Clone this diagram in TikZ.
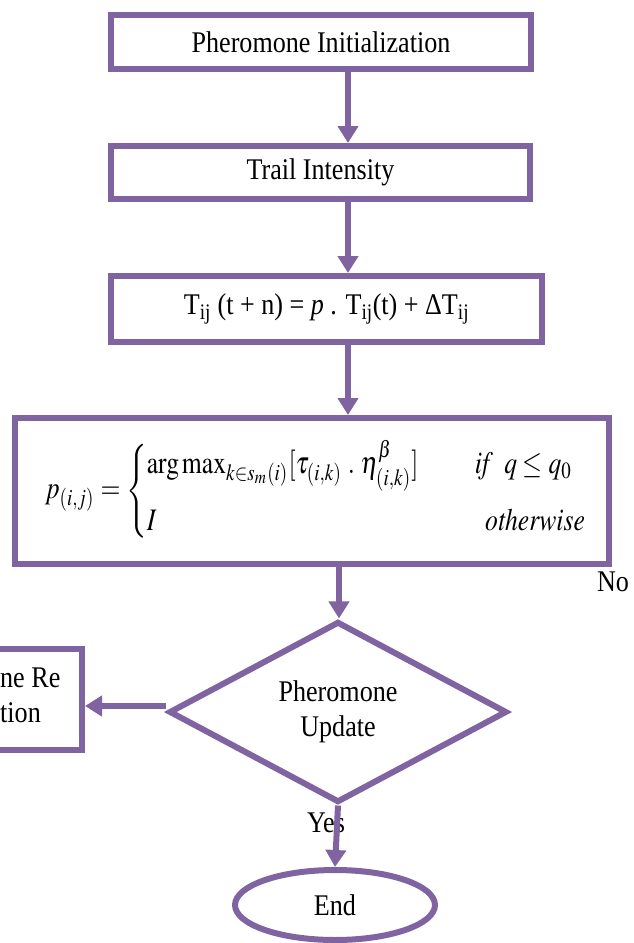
\documentclass[tikz,border=0pt]{standalone}
\usepackage{mathptmx}
\usepackage{graphicx}
\usepackage[no-math]{fontspec}
\setmainfont[FakeStretch=0.87]{Liberation Serif}
\usetikzlibrary{arrows.meta,shapes.geometric}
\definecolor{pur}{RGB}{128,100,162}
\begin{document}
\begin{tikzpicture}[x=1pt,y=-1pt,
  box/.style={draw=pur,line width=6pt,inner sep=0pt},
  arr/.style={draw=pur,line width=6pt,-{Triangle[width=20pt,length=17pt]}},
  lbl/.style={font=\fontsize{30}{35}\selectfont}]
\useasboundingbox (0,0) rectangle (634,943);
\clip (0,0) rectangle (634,943);
\node[box,minimum width=420pt,minimum height=54pt,lbl] (b1) at (321,42) {Pheromone Initialization};
\node[box,minimum width=419pt,minimum height=53pt,lbl] (b2) at (320.5,172.5) {Trail Intensity};
\node[box,minimum width=431pt,minimum height=66pt,lbl] (b3) at (326.5,309) {T\textsubscript{ij} (t + n) = \textit{p} . T\textsubscript{ij}(t) + ΔT\textsubscript{ij}};
\node[box,minimum width=594pt,minimum height=146pt] (b4) at (312,491) {\hspace{9pt}\scalebox{1}[1.22]{\resizebox{543pt}{!}{$p_{(i,j)} = \left\{\begin{array}{@{}l@{\hspace{2.2em}}l@{}} \arg\max\nolimits_{k\in s_m(i)}[\tau_{(i,k)}\;.\;\eta^{\beta}_{(i,k)}] & \mathit{if}\;\; q\le q_0 \\[6pt] I & \hspace{0.4em}\mathit{otherwise}\end{array}\right.$}}};
\node[diamond,draw=pur,line width=6pt,inner sep=0pt,minimum width=338pt,minimum height=177pt,align=center,lbl] (d) at (338,712) {Pheromone\\Update};
\node[box,minimum width=142pt,minimum height=101pt] (lb) at (11,699.5) {};
\node[lbl,anchor=west,align=left,inner sep=0pt] (lbt) at (0,695) {ne Re\\tion};
\node[ellipse,draw=pur,line width=6pt,minimum width=200pt,minimum height=70pt,lbl] (e) at (335,905) {End};
\node[lbl] (no) at (613,582) {No};
\node[lbl] (yes) at (326,823) {Yes};
\coordinate (ax) at (348,0);
\coordinate (ax2) at (339,0);
\coordinate (ay) at (0,706);
\draw[arr] (b1.south -| ax) -- (b2.north -| ax);
\draw[arr] (b2.south -| ax) -- (b3.north -| ax);
\draw[arr] (b3.south -| ax) -- (b4.north -| ax);
\draw[arr] (b4.south -| ax2) -- (d.north -| ax2);
\draw[arr] (d.west |- ay) -- (lb.east |- ay);
\draw[arr] (d.south) -- (e.north);
\end{tikzpicture}
\end{document}
